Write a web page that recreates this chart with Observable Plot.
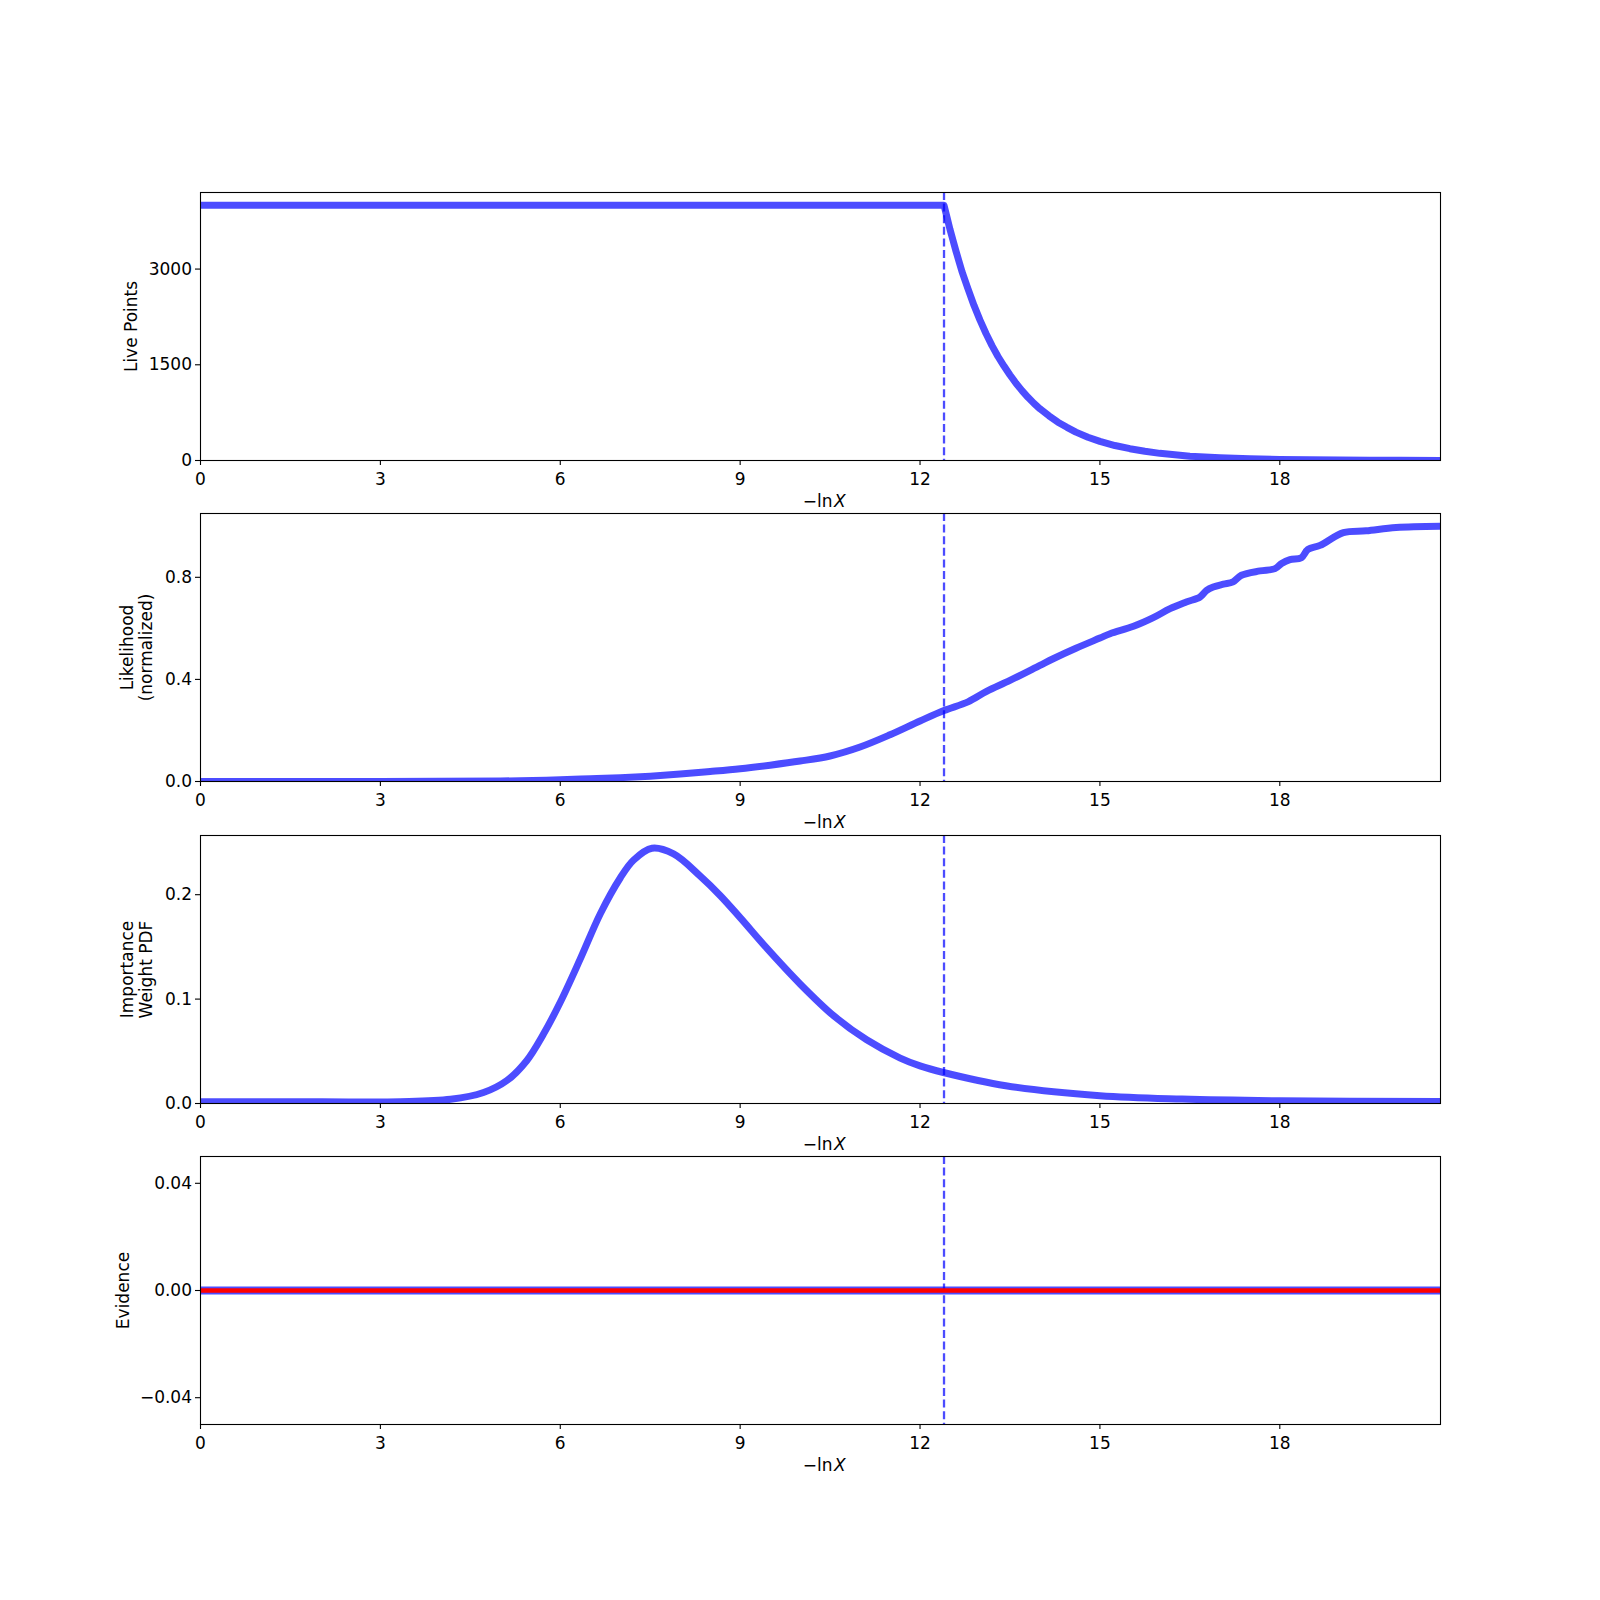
<!DOCTYPE html>
<html>
<head>
<meta charset="utf-8">
<script src="https://cdn.jsdelivr.net/npm/d3@7"></script>
<script src="https://cdn.jsdelivr.net/npm/@observablehq/plot@0.6"></script>
<style>
  html, body { margin: 0; padding: 0; background: #ffffff; }
  #chart { position: relative; width: 1600px; height: 1600px; background: #ffffff; font-family: "DejaVu Sans", sans-serif; }
  #chart svg { position: absolute; left: 0; overflow: visible; background: transparent; }
</style>
</head>
<body>
<div id="chart"></div>
<script>
// ---------- data ----------
const xMax = 20.68;
const xTicks = [0, 3, 6, 9, 12, 15, 18];
const runEnd = 12.4;              // dashed marker (−ln X)

// Panel 1: live points
const liveX = [0, 12.4, 12.45, 12.5, 12.55, 12.6, 12.65, 12.7, 12.8, 12.9, 13.0, 13.1, 13.2, 13.3, 13.4, 13.5, 13.6, 13.7, 13.8, 13.9, 14.0, 14.15, 14.3, 14.45, 14.6, 14.8, 15.0, 15.25, 15.5, 15.75, 16.0, 16.5, 17.0, 17.5, 18.0, 18.5, 19.0, 19.5, 20.0, 20.68];
const liveY = [4000, 4000, 3810, 3620, 3450, 3280, 3120, 2960, 2690, 2430, 2200, 1990, 1800, 1630, 1480, 1340, 1210, 1095, 990, 895, 810, 700, 600, 520, 445, 365, 300, 235, 185, 145, 112, 68, 42, 26, 16, 10, 6, 4, 2, 1];
const liveTicks = [0, 1500, 3000];

// Panel 2: likelihood (normalized)
const likeX = [0, 3, 5, 6, 6.5, 7, 7.5, 8, 8.5, 9, 9.5, 10, 10.5, 11, 11.5, 12, 12.4, 12.8, 13.11, 13.5, 14.0, 14.22, 14.6, 15.0, 15.17, 15.56, 15.89, 16.17, 16.44, 16.67, 16.78, 16.89, 17.06, 17.22, 17.36, 17.67, 17.92, 18.03, 18.17, 18.36, 18.47, 18.67, 19.06, 19.44, 19.94, 20.68];
const likeY = [0, 0, 0.002, 0.007, 0.011, 0.015, 0.021, 0.029, 0.039, 0.050, 0.064, 0.080, 0.100, 0.135, 0.183, 0.237, 0.278, 0.312, 0.353, 0.396, 0.455, 0.481, 0.522, 0.562, 0.579, 0.608, 0.642, 0.677, 0.703, 0.723, 0.749, 0.762, 0.773, 0.782, 0.808, 0.825, 0.834, 0.854, 0.869, 0.877, 0.909, 0.925, 0.975, 0.982, 0.995, 1.0];
const likeTicks = [0, 0.4, 0.8];

// Panel 3: importance weight PDF
const wX = [0, 2, 3.33, 4.17, 4.72, 5.11, 5.44, 5.72, 6.0, 6.33, 6.67, 7.0, 7.22, 7.53, 7.89, 8.33, 8.67, 9.0, 9.44, 10.0, 10.56, 11.11, 11.67, 12.0, 12.39, 13.43, 15.0, 16.37, 18.0, 20.68];
const wY = [0.0016, 0.0016, 0.0017, 0.004, 0.0105, 0.022, 0.041, 0.0665, 0.097, 0.138, 0.182, 0.216, 0.233, 0.2445, 0.239, 0.218, 0.199, 0.178, 0.149, 0.1145, 0.084, 0.061, 0.0435, 0.036, 0.0297, 0.017, 0.0074, 0.0042, 0.0026, 0.002];
const wTicks = [0, 0.1, 0.2];

// Panel 4: evidence
const evX = [0, 20.68];
const evY = [0, 0];
const evTruth = [0];
const evTicks = [-0.04, 0, 0.04];

// ---------- layout ----------
const FONT = "DejaVu Sans";
const FS = 17;
const panelH = 268;
const padTop = 10, padBottom = 43;
const BLUE = "blue";

function zip(xs, ys) { return xs.map((x, i) => ({x, y: ys[i]})); }

function makePanel({top, yDomain, yTicks, yFormat, ylabel, ylabelDx, marks}) {
  const svg = Plot.plot({
    width: 1600,
    height: panelH + padTop + padBottom,
    marginLeft: 200,
    marginRight: 160,
    marginTop: padTop,
    marginBottom: padBottom,
    style: {fontFamily: FONT, fontSize: FS + "px", color: "black", background: "transparent", overflow: "visible"},
    x: {domain: [0, xMax], label: null},
    y: {domain: yDomain, label: null},
    marks: [
      ...marks,
      Plot.frame({stroke: "black", strokeWidth: 1.1}),
      Plot.axisX({ticks: xTicks, tickFormat: d3.format("d"), tickSize: 5, tickPadding: 7, label: null, fontSize: FS, strokeWidth: 1.1}),
      Plot.axisY({ticks: yTicks, tickFormat: yFormat, tickSize: 5, tickPadding: 3.5, label: null, fontSize: FS, strokeWidth: 1.1}),
      Plot.text(["−ln"], {text: d => d, frameAnchor: "bottom", dy: 46, dx: 12, textAnchor: "end", fontSize: FS, fill: "black"}),
      Plot.text(["X"], {text: d => d, frameAnchor: "bottom", dy: 46, dx: 13.5, textAnchor: "start", fontSize: FS, fontStyle: "italic", fill: "black"}),
      Plot.text([ylabel], {text: d => d, frameAnchor: "left", dx: ylabelDx, rotate: -90, textAnchor: "middle", lineAnchor: "middle", lineHeight: 1.13, fontSize: FS, fill: "black"})
    ]
  });
  svg.style.top = (top - padTop) + "px";
  document.getElementById("chart").appendChild(svg);
}

const dashRule = Plot.ruleX([runEnd], {stroke: BLUE, strokeOpacity: 0.7, strokeWidth: 2.3, strokeDasharray: "8,3.6"});

makePanel({
  top: 192, yDomain: [0, 4200], yTicks: liveTicks, yFormat: d3.format("d"),
  ylabel: "Live Points", ylabelDx: -70,
  marks: [
    Plot.line(zip(liveX, liveY), {x: "x", y: "y", stroke: BLUE, strokeOpacity: 0.7, strokeWidth: 7, clip: true}),
    dashRule
  ]
});

makePanel({
  top: 513, yDomain: [0, 1.05], yTicks: likeTicks, yFormat: d3.format(".1f"),
  ylabel: "Likelihood\n(normalized)", ylabelDx: -64,
  marks: [
    Plot.line(zip(likeX, likeY), {x: "x", y: "y", stroke: BLUE, strokeOpacity: 0.7, strokeWidth: 7, curve: "catmull-rom", clip: true}),
    dashRule
  ]
});

makePanel({
  top: 835, yDomain: [0, 0.2567], yTicks: wTicks, yFormat: d3.format(".1f"),
  ylabel: "Importance\nWeight PDF", ylabelDx: -64,
  marks: [
    Plot.line(zip(wX, wY), {x: "x", y: "y", stroke: BLUE, strokeOpacity: 0.7, strokeWidth: 7, curve: "catmull-rom", clip: true}),
    dashRule
  ]
});

makePanel({
  top: 1156, yDomain: [-0.05, 0.05], yTicks: evTicks, yFormat: d3.format(".2f"),
  ylabel: "Evidence", ylabelDx: -78,
  marks: [
    Plot.line(zip(evX, evY), {x: "x", y: "y", stroke: BLUE, strokeOpacity: 0.7, strokeWidth: 8, clip: true}),
    dashRule,
    Plot.ruleY(evTruth, {stroke: "red", strokeWidth: 4.5})
  ]
});
</script>
</body>
</html>
